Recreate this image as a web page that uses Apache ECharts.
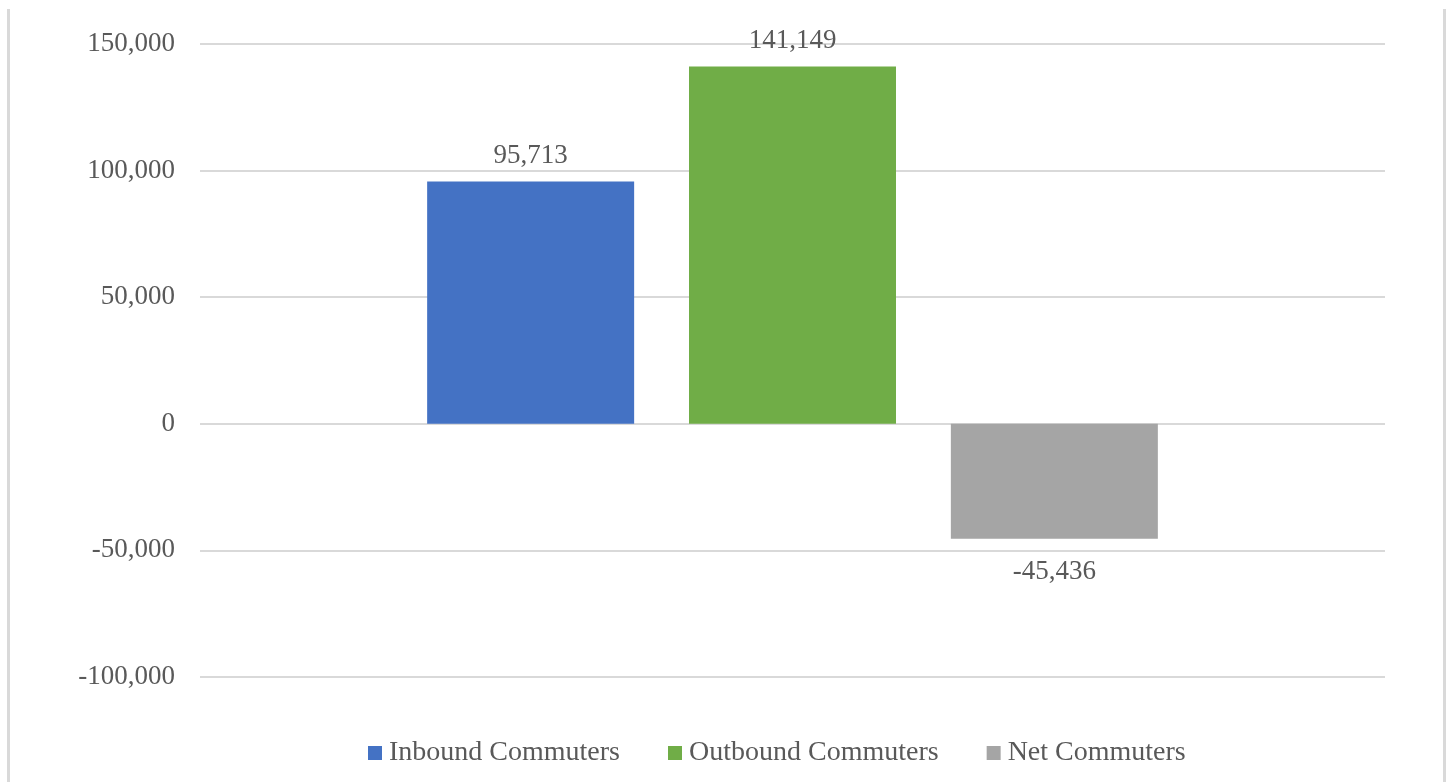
<!DOCTYPE html>
<html>
<head>
<meta charset="utf-8">
<script src="https://cdn.jsdelivr.net/npm/echarts@6/dist/echarts.min.js"></script>
<style>
html,body{margin:0;padding:0;background:#fff;}
#chart{width:1448px;height:782px;}
</style>
</head>
<body>
<div id="chart"></div>
<script>
var categories = [''];
var seriesNames = ['Inbound Commuters', 'Outbound Commuters', 'Net Commuters'];
var inbound = [95713];
var outbound = [141149];
var net = [-45436];
var seriesColors = ['#4472C4', '#70AD47', '#A5A5A5'];
var yMin = -100000, yMax = 150000, yStep = 50000;

var FONT = '"Liberation Serif", "Times New Roman", serif';
var TXT = '#595959';

function fmt(v) { return v.toLocaleString('en-US'); }

function mkSeries(name, data, color, pos, dist) {
  return {
    name: name,
    type: 'bar',
    data: data,
    barWidth: 207,
    barGap: '26.5%',
    itemStyle: { color: color },
    label: {
      show: true,
      position: pos,
      distance: dist,
      color: TXT,
      fontFamily: FONT,
      fontSize: 27,
      formatter: function (p) { return fmt(p.value); }
    },
    emphasis: { disabled: true }
  };
}

var chart = echarts.init(document.getElementById('chart'));
chart.setOption({
  animation: false,
  backgroundColor: '#ffffff',
  grid: { left: 200, right: 63, top: 44, bottom: 105, containLabel: false },
  legend: {
    data: seriesNames,
    left: 363,
    top: 734,
    itemWidth: 14,
    itemHeight: 14,
    itemGap: 48,
    icon: 'rect',
    textStyle: { color: TXT, fontFamily: FONT, fontSize: 28, padding: [0, 0, 0, 2] }
  },
  xAxis: {
    type: 'category',
    data: categories,
    axisLine: { show: false },
    axisTick: { show: false },
    axisLabel: { show: false }
  },
  yAxis: {
    type: 'value',
    min: yMin,
    max: yMax,
    interval: yStep,
    axisLine: { show: false },
    axisTick: { show: false },
    axisLabel: {
      color: TXT,
      fontFamily: FONT,
      fontSize: 27,
      margin: 25,
      formatter: function (v) { return fmt(v); }
    },
    splitLine: { lineStyle: { color: '#d9d9d9', width: 2 } }
  },
  graphic: [
    { type: 'line', shape: { x1: 8.5, y1: 9, x2: 8.5, y2: 782 }, style: { stroke: '#d9d9d9', lineWidth: 3 } },
    { type: 'line', shape: { x1: 1444.5, y1: 9, x2: 1444.5, y2: 782 }, style: { stroke: '#d9d9d9', lineWidth: 3 } }
  ],
  series: [
    mkSeries(seriesNames[0], inbound, seriesColors[0], 'top', 12),
    mkSeries(seriesNames[1], outbound, seriesColors[1], 'top', 12),
    mkSeries(seriesNames[2], net, seriesColors[2], 'bottom', 20)
  ]
});
</script>
</body>
</html>
